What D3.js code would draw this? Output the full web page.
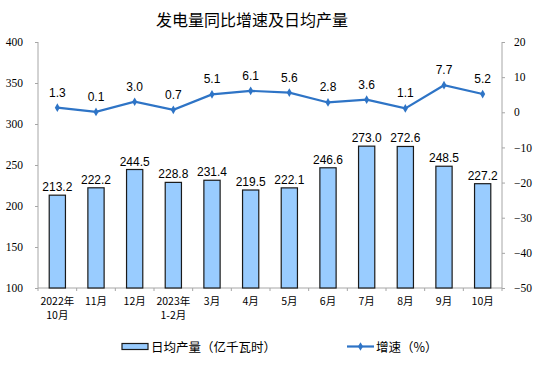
<!DOCTYPE html>
<html><head><meta charset="utf-8">
<script src="https://cdn.jsdelivr.net/npm/d3@7"></script>
<style>body{margin:0;background:#fff}svg{display:block}</style>
</head><body>
<svg id="c" width="554" height="379"></svg>
<script>
const categories = [["2022年","10月"],["11月"],["12月"],["2023年","1-2月"],["3月"],["4月"],["5月"],["6月"],["7月"],["8月"],["9月"],["10月"]];
const dailyOutput = [213.2,222.2,244.5,228.8,231.4,219.5,222.1,246.6,273.0,272.6,248.5,227.2];
const growth = [1.3,0.1,3.0,0.7,5.1,6.1,5.6,2.8,3.6,1.1,7.7,5.2];
const leftTicks = [100,150,200,250,300,350,400];
const rightTicks = [-50,-40,-30,-20,-10,0,10,20];
const title = "发电量同比增速及日均产量";
const barName = "日均产量（亿千瓦时）";
const lineName = "增速（%）";

const svg = d3.select("#c");
const L = 38, R = 502, T = 42, B = 288;
const x = d3.scaleBand().domain(d3.range(categories.length)).range([L, R]).paddingInner(0.58).paddingOuter(0.29);
const xs = d3.scaleBand().domain(d3.range(categories.length)).range([L, R]);
const yL = d3.scaleLinear().domain([100, 400]).range([B, T]);
const yR = d3.scaleLinear().domain([-50, 20]).range([B, T]);
const axisCol = "#a6a6a6";
const serif = "'Liberation Serif','Times New Roman',serif";
const sans = "'Liberation Sans',Arial,sans-serif";
const cjk = "'Noto Sans CJK SC','Liberation Sans',sans-serif";

svg.append("text").attr("x", 252).attr("y", 26).attr("text-anchor", "middle")
  .attr("font-family", cjk).attr("font-size", 16).attr("fill", "#000").text(title);

// left axis
const gl = svg.append("g").attr("transform", `translate(${L},0)`)
  .call(d3.axisLeft(yL).tickValues(leftTicks).tickSize(3).tickPadding(12));
gl.selectAll("path,line").attr("stroke", axisCol);
gl.select(".domain").attr("d", `M0,${T}H0V${B}`);
gl.selectAll("text").attr("font-family", serif).attr("font-size", 11.5).attr("fill", "#000");

// right axis
const gr = svg.append("g").attr("transform", `translate(${R},0)`)
  .call(d3.axisRight(yR).tickValues(rightTicks).tickSize(3).tickPadding(9));
gr.selectAll("path,line").attr("stroke", axisCol);
gr.select(".domain").attr("d", `M0,${T}H0V${B}`);
gr.selectAll("text").attr("font-family", serif).attr("font-size", 11.5).attr("fill", "#000");

// bottom axis
const gb = svg.append("g").attr("transform", `translate(0,${B})`);
gb.append("line").attr("x1", L).attr("x2", R).attr("y1", 0).attr("y2", 0).attr("stroke", axisCol);
gb.selectAll("line.t").data(d3.range(categories.length + 1)).join("line").attr("class", "t")
  .attr("x1", i => L + i * xs.bandwidth()).attr("x2", i => L + i * xs.bandwidth())
  .attr("y1", 0).attr("y2", 3).attr("stroke", axisCol);
const xl = svg.append("g");
categories.forEach((lines, i) => {
  const t = xl.append("text").attr("text-anchor", "middle").attr("font-family", cjk)
    .attr("font-size", 10.5).attr("fill", "#000");
  lines.forEach((s, j) => t.append("tspan").attr("x", xs(i) + xs.bandwidth() / 2).attr("y", 305 + j * 14).text(s));
});

// bars
svg.append("g").selectAll("rect").data(dailyOutput).join("rect")
  .attr("x", (d, i) => x(i)).attr("width", x.bandwidth())
  .attr("y", d => yL(d)).attr("height", d => B - yL(d))
  .attr("fill", "#99ccff").attr("stroke", "#1a1a1a").attr("stroke-width", 1.2);
svg.append("g").selectAll("text").data(dailyOutput).join("text")
  .attr("x", (d, i) => x(i) + x.bandwidth() / 2).attr("y", d => yL(d) - 4)
  .attr("text-anchor", "middle").attr("font-family", sans).attr("font-size", 12).attr("fill", "#000")
  .text(d => d.toFixed(1));

// line
const lineCol = "#2e74c6";
const cx = i => xs(i) + xs.bandwidth() / 2;
svg.append("path").datum(growth)
  .attr("d", d3.line().x((d, i) => cx(i)).y(d => yR(d)))
  .attr("fill", "none").attr("stroke", lineCol).attr("stroke-width", 2.2);
svg.append("g").selectAll("path").data(growth).join("path")
  .attr("d", d3.symbol(d3.symbolDiamond, 22))
  .attr("transform", (d, i) => `translate(${cx(i)},${yR(d)})`).attr("fill", lineCol);
svg.append("g").selectAll("text").data(growth).join("text")
  .attr("x", (d, i) => cx(i)).attr("y", d => yR(d) - 11)
  .attr("text-anchor", "middle").attr("font-family", sans).attr("font-size", 12).attr("fill", "#000")
  .text(d => d.toFixed(1));

// legend
svg.append("rect").attr("x", 122).attr("y", 343.5).attr("width", 26).attr("height", 6)
  .attr("fill", "#99ccff").attr("stroke", "#1a1a1a").attr("stroke-width", 1.2);
svg.append("text").attr("x", 151).attr("y", 351.5).attr("font-family", cjk).attr("font-size", 12.5)
  .attr("fill", "#000").text(barName);
svg.append("line").attr("x1", 347).attr("x2", 374).attr("y1", 346.5).attr("y2", 346.5)
  .attr("stroke", lineCol).attr("stroke-width", 2.2);
svg.append("path").attr("d", d3.symbol(d3.symbolDiamond, 22))
  .attr("transform", "translate(360.5,346.5)").attr("fill", lineCol);
svg.append("text").attr("x", 376).attr("y", 351.5).attr("font-family", cjk).attr("font-size", 12.5)
  .attr("fill", "#000").text(lineName);
</script>
</body></html>
